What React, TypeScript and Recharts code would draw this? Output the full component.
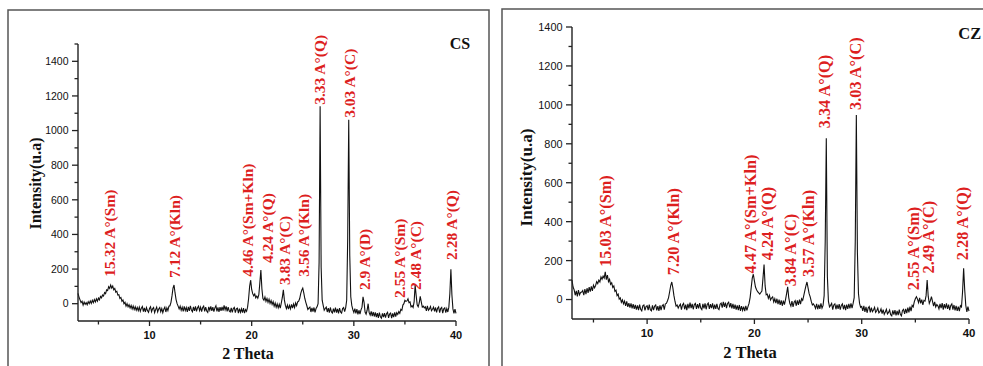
import { ComposedChart, Line, Scatter, XAxis, YAxis } from "recharts";

// scans are sampled every 0.1° from 2θ = 3.0 to 40.0
const THETA_START = 3;
const THETA_STEP = 0.1;

const csCounts = [
  60, 38, 22, 6, 14, -8, 10, -4, 6, -6,
  12, 0, 16, 2, 20, 6, 24, 10, 28, 14,
  32, 22, 42, 34, 50, 44, 64, 58, 80, 76,
  98, 88, 108, 90, 102, 80, 88, 66, 72, 50,
  52, 30, 36, 14, 22, 0, 8, -14, 0, -18,
  -6, -24, -10, -30, -14, -34, -18, -38, -22, -40,
  -20, -44, -26, -16, -46, -24, -48, -22, -40, -50,
  -28, -18, -46, -30, -22, -52, -34, -20, -48, -30,
  -22, -46, -28, -52, -32, -20, -48, -24, -40, -14,
  -12, 8, 45, 90, 108, 62, 24, 0, -14, -30,
  -14, -38, -20, -44, -16, -40, -22, -48, -18, -42,
  -12, -36, -46, -18, -42, -16, -44, -24, -14, -40,
  -20, -46, -22, -14, -44, -20, -42, -50, -18, -38,
  -16, -42, -20, -46, -24, -12, -44, -22, -48, -20,
  -42, -18, -40, -10, -36, -16, -44, -20, -42, -48,
  -24, -50, -28, -22, -52, -30, -26, -54, -28, -50,
  -30, -52, -26, -54, -34, -44, -20, 30, 100, 137,
  82, 58, 46, 56, 34, 44, 32, 52, 120, 195,
  86, 30, 20, 38, 14, 30, 8, 26, 2, 18,
  -4, 12, -14, 4, -20, -2, -24, -4, -26, 4,
  36, 80, 22, -10, -28, -8, -32, -10, -30, -4,
  -26, -2, -22, 4, -12, 10, 14, 30, 58, 78,
  90, 62, 30, 8, -12, -34, -26, -20, -48, -24,
  -46, -22, -50, -28, -18, 0, 240, 1140, 210, 20,
  -10, -38, -28, -20, -48, -26, -52, -22, -46, -54,
  -28, -50, -22, -52, -30, -56, -26, -48, -54, -28,
  -22, -46, -24, 20, 380, 1062, 280, 40, -10, -34,
  -50, -28, -56, -32, -62, -38, -60, -36, -20, 40,
  8, -48, -60, -38, 0, -52, -66, -44, -72, -48,
  -74, -50, -78, -54, -82, -52, -76, -84, -56, -78,
  -54, -80, -58, -50, -82, -60, -54, -84, -56, -78,
  -50, -74, -52, -62, -46, -56, -32, -38, -8, 0,
  20, 14, 16, 28, 6, 10, -18, -12, -22, 10,
  108, 48, -6, -18, 4, 42, 10, -20, -14, -24,
  -18, -42, -12, -38, -30, -16, -40, -32, -20, -44,
  -22, -50, -26, -18, -52, -28, -22, -54, -30, -24,
  -52, -28, -48, -20, 60, 199, 50, -30, -56, -32,
  -56,
];

const czCounts = [
  100, 64, 50, 22, 44, 16, 48, 24, 36, 38,
  46, 22, 54, 28, 58, 34, 64, 40, 68, 44,
  74, 60, 72, 92, 82, 100, 90, 116, 104, 120,
  110, 142, 102, 126, 92, 104, 78, 86, 62, 70,
  42, 48, 20, 28, 2, 8, -14, -2, -22, -8,
  -32, -10, -38, -18, -42, -20, -46, -24, -48, -28,
  -52, -30, -54, -26, -50, -58, -32, -28, -56, -36,
  -32, -54, -26, -52, -58, -30, -54, -34, -28, -56,
  -34, -58, -30, -54, -32, -26, -52, -22, -20, -6,
  10, 40, 72, 90, 60, 20, -10, -34, -28, -44,
  -32, -24, -52, -28, -20, -50, -26, -54, -22, -46,
  -16, -44, -22, -50, -26, -20, -48, -24, -46, -18,
  -44, -52, -22, -46, -20, -50, -26, -18, -48, -24,
  -44, -20, -50, -26, -48, -22, -46, -52, -24, -18,
  -42, -12, -38, -16, -44, -20, -14, -40, -18, -46,
  -22, -48, -26, -52, -30, -54, -28, -58, -34, -56,
  -36, -60, -32, -56, -36, -20, 10, 60, 110, 130,
  96, 64, 50, 40, 34, 28, 36, 44, 110, 180,
  70, 24, 28, 6, 22, -2, 8, 14, -12, 4,
  -18, 4, -24, 0, -28, -4, -32, -6, -26, 0,
  30, 65, 10, -20, -34, -8, -38, -14, -6, -32,
  -4, -28, 0, -24, 4, -4, 20, 46, 70, 90,
  60, 30, 14, -10, -28, -22, -32, -46, -22, -50,
  -26, -48, -20, -44, -30, 20, 300, 828, 120, -10,
  -38, -30, -20, -52, -28, -22, -50, -26, -48, -24,
  -52, -30, -22, -50, -28, -54, -26, -48, -22, -46,
  -20, -44, -20, 10, 300, 948, 240, 30, -20, -40,
  -36, -58, -32, -64, -38, -68, -44, -36, -66, -42,
  -62, -54, -40, -66, -58, -44, -68, -62, -48, -72,
  -52, -76, -64, -50, -74, -66, -54, -78, -84, -56,
  -78, -54, -82, -58, -80, -52, -76, -84, -56, -50,
  -74, -48, -70, -42, -66, -36, -60, -30, -38, -12,
  4, 14, 2, -16, 8, -20, 0, -28, -4, -8,
  20, 100, 16, -20, -6, 15, -10, -34, -12, -38,
  -26, -32, -48, -22, -44, -18, -52, -24, -46, -20,
  -48, -26, -54, -30, -22, -52, -28, -56, -32, -58,
  -36, -60, -32, -38, 40, 160, 50, -30, -64, -36,
  -60,
];

// peak tags: 2θ of the tag, intensity where the text starts
const csPeaks = [
  { theta: 6.08, at: 156, text: "15.32 A°(Sm)" },
  { theta: 12.45, at: 149, text: "7.12 A°(Kln)" },
  { theta: 19.6, at: 156, text: "4.46 A°(Sm+Kln)" },
  { theta: 21.57, at: 235, text: "4.24 A°(Q)" },
  { theta: 23.24, at: 108, text: "3.83 A°(C)" },
  { theta: 25.1, at: 156, text: "3.56 A°(Kln)" },
  { theta: 26.67, at: 1149, text: "3.33 A°(Q)" },
  { theta: 29.6, at: 1074, text: "3.03 A°(C)" },
  { theta: 31.0, at: 79, text: "2.9 A°(D)" },
  { theta: 34.5, at: 33, text: "2.55 A°(Sm)" },
  { theta: 36.0, at: 79, text: "2.48 A°(C)" },
  { theta: 39.58, at: 253, text: "2.28 A°(Q)" },
];

const czPeaks = [
  { theta: 6.09, at: 168, text: "15.03 A°(Sm)" },
  { theta: 12.45, at: 125, text: "7.20 A°(Kln)" },
  { theta: 19.6, at: 134, text: "4.47 A°(Sm+Kln)" },
  { theta: 21.2, at: 202, text: "4.24 A°(Q)" },
  { theta: 23.33, at: 68, text: "3.84 A°(C)" },
  { theta: 25.03, at: 116, text: "3.57 A°(Kln)" },
  { theta: 26.5, at: 880, text: "3.34 A°(Q)" },
  { theta: 29.4, at: 974, text: "3.03 A°(C)" },
  { theta: 34.8, at: 48, text: "2.55 A°(Sm)" },
  { theta: 36.2, at: 134, text: "2.49 A°(C)" },
  { theta: 39.33, at: 202, text: "2.28 A°(Q)" },
];

const xTicks = [5, 10, 15, 20, 25, 30, 35, 40];
const csYTicks = [-100, 0, 100, 200, 300, 400, 500, 600, 700, 800, 900, 1000, 1100, 1200, 1300, 1400, 1500];
const czYTicks = [-100, 0, 100, 200, 300, 400, 500, 600, 700, 800, 900, 1000, 1100, 1200, 1300, 1400];

const SERIF = "'Liberation Serif', 'Times New Roman', serif";
const SANS = "'Liberation Sans', Arial, sans-serif";
const INK = "#222";

const toRows = (counts: number[]) =>
  counts.map((v, i) => ({ theta: +(THETA_START + i * THETA_STEP).toFixed(1), counts: v }));

const YTick = ({ x, y, payload, fs }: any) => {
  const v = payload.value;
  if (v < 0) return null;
  const major = v % 200 === 0;
  return (
    <g>
      <line x1={x - (major ? 6 : 3.5)} x2={x} y1={y} y2={y} stroke={INK} strokeWidth={1.3} />
      {major && (
        <text x={x - 9.5} y={y} dy="0.36em" textAnchor="end" fontSize={fs} fontFamily={SANS} fill="#111">
          {v}
        </text>
      )}
    </g>
  );
};

const XTick = ({ x, y, payload, fs }: any) => {
  const v = payload.value;
  const major = v % 10 === 0;
  return (
    <g>
      <line x1={x} x2={x} y1={y} y2={y + (major ? 5 : 3.5)} stroke={INK} strokeWidth={1.3} />
      {major && (
        <text x={x} y={y + 18} textAnchor="middle" fontSize={fs} fontWeight="bold" fontFamily={SANS} fill="#111">
          {v}
        </text>
      )}
    </g>
  );
};

const PeakTag = ({ cx, cy, payload, fs }: any) => (
  <text
    x={cx} y={cy} dy="0.36em"
    transform={`rotate(-90 ${cx} ${cy})`}
    fill="#dd1f1f" fontSize={fs} fontWeight="bold" fontFamily={SERIF}
  >
    {payload.text}
  </text>
);

interface PanelProps {
  left: number;
  width: number;
  margin: { top: number; right: number; bottom: number; left: number };
  counts: number[];
  peaks: Array<{ theta: number; at: number; text: string }>;
  yTop: number;
  yTicks: number[];
  tickFs: number;
  tagFs: number;
}

function Panel({ left, width, margin, counts, peaks, yTop, yTicks, tickFs, tagFs }: PanelProps) {
  return (
    <div style={{ position: "absolute", left, top: 0 }}>
      <ComposedChart width={width} height={366} data={toRows(counts)} margin={margin} style={{ overflow: "visible" }}>
        <XAxis
          dataKey="theta" type="number" domain={[3, 40]} ticks={xTicks} interval={0}
          height={30} tickSize={0} tickMargin={0}
          axisLine={{ stroke: INK, strokeWidth: 1.4 }}
          tick={(p: any) => <XTick {...p} fs={tickFs + 0.5} />}
        />
        <YAxis
          type="number" domain={[-100, yTop]} ticks={yTicks} interval={0}
          width={30} tickSize={0} tickMargin={0}
          axisLine={{ stroke: INK, strokeWidth: 1.4 }}
          tick={(p: any) => <YTick {...p} fs={tickFs} />}
        />
        <Line
          type="linear" dataKey="counts" stroke="#111" strokeWidth={1.1}
          dot={false} activeDot={false} isAnimationActive={false}
        />
        <Scatter
          data={peaks} dataKey="at" isAnimationActive={false}
          shape={(p: any) => <PeakTag {...p} fs={tagFs} />}
        />
      </ComposedChart>
    </div>
  );
}

export default function App() {
  return (
    <div style={{ position: "absolute", left: 0, top: 0, width: 983, height: 366, overflow: "hidden", background: "#fff" }}>
      <svg width={983} height={366} style={{ position: "absolute", left: 0, top: 0 }}>
        <rect x={8} y={10} width={481} height={400} fill="none" stroke="#555" strokeWidth={1.5} />
        <rect x={502} y={9} width={600} height={400} fill="none" stroke="#555" strokeWidth={1.5} />
        <text x={35} y={183.5} dy="0.35em" transform="rotate(-90 35 183.5)" textAnchor="middle"
          fontFamily={SERIF} fontWeight="bold" fontSize={16} fill="#111">Intensity(u.a)</text>
        <text x={526} y={177.5} dy="0.35em" transform="rotate(-90 526 177.5)" textAnchor="middle"
          fontFamily={SERIF} fontWeight="bold" fontSize={17} fill="#111">Intensity(u.a)</text>
        <text x={248} y={353} dy="0.35em" textAnchor="middle"
          fontFamily={SERIF} fontWeight="bold" fontSize={16} fill="#111">2 Theta</text>
        <text x={750} y={352.7} dy="0.35em" textAnchor="middle"
          fontFamily={SERIF} fontWeight="bold" fontSize={16.5} fill="#111">2 Theta</text>
        <text x={460} y={43.3} dy="0.35em" textAnchor="middle"
          fontFamily={SERIF} fontWeight="bold" fontSize={16} fill="#111">CS</text>
        <text x={969.7} y={33.3} dy="0.35em" textAnchor="middle"
          fontFamily={SERIF} fontWeight="bold" fontSize={16.5} fill="#111">CZ</text>
      </svg>
      <Panel
        left={0} width={490} margin={{ top: 44, right: 34, bottom: 15, left: 48 }}
        counts={csCounts} peaks={csPeaks} yTop={1500} yTicks={csYTicks} tickFs={10.5} tagFs={15.5}
      />
      <Panel
        left={490} width={493} margin={{ top: 27, right: 14, bottom: 17, left: 52 }}
        counts={czCounts} peaks={czPeaks} yTop={1400} yTicks={czYTicks} tickFs={10.9} tagFs={16.3}
      />
    </div>
  );
}
